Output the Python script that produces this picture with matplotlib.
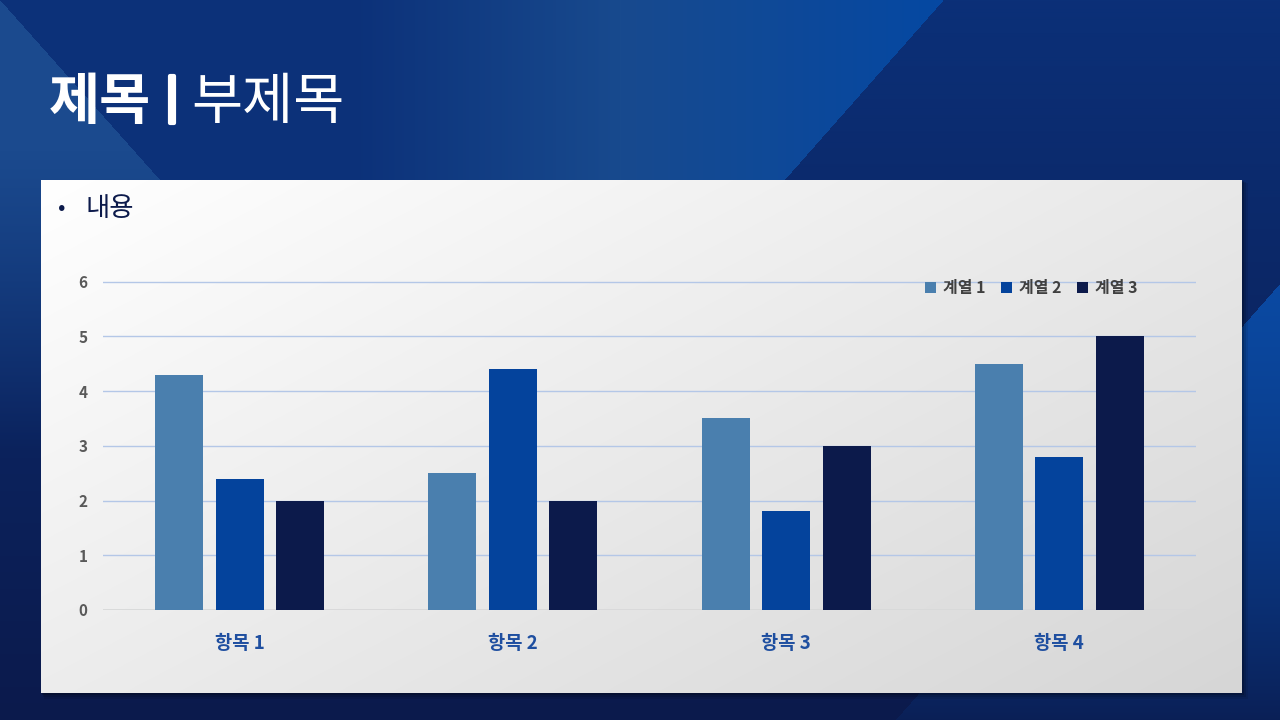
import numpy as np
import matplotlib
matplotlib.use("Agg")
import matplotlib.pyplot as plt
import matplotlib.patheffects as pe
from matplotlib.colors import to_rgb
from matplotlib.patches import Rectangle, Patch

plt.rcParams['font.family'] = ['Noto Sans CJK KR', 'DejaVu Sans']

# Chart data
categories = ["항목 1", "항목 2", "항목 3", "항목 4"]
series_names = ["계열 1", "계열 2", "계열 3"]
series_1 = [4.3, 2.5, 3.5, 4.5]
series_2 = [2.4, 4.4, 1.8, 2.8]
series_3 = [2, 2, 3, 5]
y_ticks = [0, 1, 2, 3, 4, 5, 6]

colors = ["#4a7fae", "#04439c", "#0c1a4b"]

W, H = 1280, 720
fig = plt.figure(figsize=(12.8, 7.2), dpi=100)


def rgb(h):
    return np.array(to_rgb(h))


# Slide background (decoration)
bg = fig.add_axes([0, 0, 1, 1])
bg.set_axis_off()
yy, xx = np.mgrid[0:H, 0:W].astype(float)
t = (yy / (H - 1))[..., None]
img = rgb("#0b3078") * (1 - t) + rgb("#0b1a4c") * t

# left light triangle
left = xx < 160 * yy / 180
w = np.clip(1 - (yy - 150) / 300, 0, 1)[..., None] * left[..., None]
img = img * (1 - w) + rgb("#1b4a8e") * w

# middle band with horizontal gradient
mid = (xx >= 160 * yy / 180) & (xx < 943 - 159 * yy / 180)
band = np.stack([np.interp(xx, [350, 620, 935], [rgb("#0c3179")[i], rgb("#184a8e")[i], rgb("#0548a2")[i]])
                 for i in range(3)], axis=-1)
fade = np.clip(1 - (yy - 200) / 400, 0, 1)[..., None]
img = np.where(mid[..., None], img * (1 - fade) + band * fade, img)

# right lower bright triangle
right = xx > 1280 - (yy - 283) * 37 / 42
w = (np.clip(1 - (yy - 283) / 470, 0, 1) ** 0.8)[..., None] * right[..., None]
img = img * (1 - w) + rgb("#0a4aa3") * w

bg.imshow(img, extent=(0, W, H, 0), interpolation="bilinear", zorder=0)

# panel shadow and panel gradient
for k, a in [(6, 0.08), (4, 0.12), (2, 0.18)]:
    bg.add_patch(Rectangle((41 + k / 2, 180 + k / 2), 1201 + k / 2, 513 + k / 2,
                           facecolor="black", alpha=a, edgecolor="none", zorder=1))
py, px = np.mgrid[0:513, 0:1201].astype(float)
g = ((px / 1200) * 0.55 + (py / 512) * 0.45)[..., None]
panel = rgb("#ffffff") * (1 - g) + rgb("#d6d6d6") * g
bg.imshow(panel, extent=(41, 1242, 693, 180), interpolation="bilinear", zorder=2)
bg.set_xlim(0, W)
bg.set_ylim(H, 0)

# Title and bullet
bg.text(49, 119, "제목", fontsize=40, fontweight="bold", color="white", va="baseline", zorder=3)
bg.text(166, 111, "|", fontsize=30, fontweight="bold", color="white", va="baseline", zorder=3,
        path_effects=[pe.withStroke(linewidth=3, foreground="white")])
bg.text(191, 119, "부제목", fontsize=40, color="white", va="baseline", zorder=3)
bg.text(58, 215, "•", fontsize=16, color="#0c1a4b", va="baseline", zorder=3)
bg.text(86, 216, "내용", fontsize=19, color="#0c1a4b", va="baseline", zorder=3)

# Chart
ax = fig.add_axes([103 / W, 1 - 610 / H, 1093 / W, 329 / H])
ax.patch.set_alpha(0)
x = np.arange(len(categories))
width = 0.176
offsets = [-0.2216, 0, 0.2216]
for vals, off, col, name in zip([series_1, series_2, series_3], offsets, colors, series_names):
    ax.bar(x + off, vals, width, color=col, label=name, zorder=3)

ax.set_xlim(-0.5, len(categories) - 0.5)
ax.set_ylim(0, 6.01)
ax.set_yticks(y_ticks)
ax.set_yticklabels([str(v) for v in y_ticks], fontsize=11, fontweight="bold", color="#595959")
ax.set_xticks(x)
ax.set_xticklabels(categories, fontsize=13.5, fontweight="bold", color="#1f4fa0")
ax.tick_params(axis="y", length=0, pad=11)
ax.tick_params(axis="x", length=0, pad=17)
for s in ax.spines.values():
    s.set_visible(False)
ax.yaxis.grid(True, color="#b4c7e7", lw=1)
ax.set_axisbelow(True)
ax.axhline(0, color="#d9d9d9", lw=1.3, zorder=2)

handles = [Patch(facecolor=c, edgecolor="none") for c in colors]
leg = ax.legend(handles, series_names, loc="center right", bbox_to_anchor=(0.952, 0.978),
                ncol=3, frameon=False, handlelength=0.7, handleheight=0.7,
                handletextpad=0.4, columnspacing=1.0, borderaxespad=0,
                prop={"size": 11.5, "weight": "bold"})
for txt in leg.get_texts():
    txt.set_color("#404040")

fig.savefig("out.png", dpi=100)
